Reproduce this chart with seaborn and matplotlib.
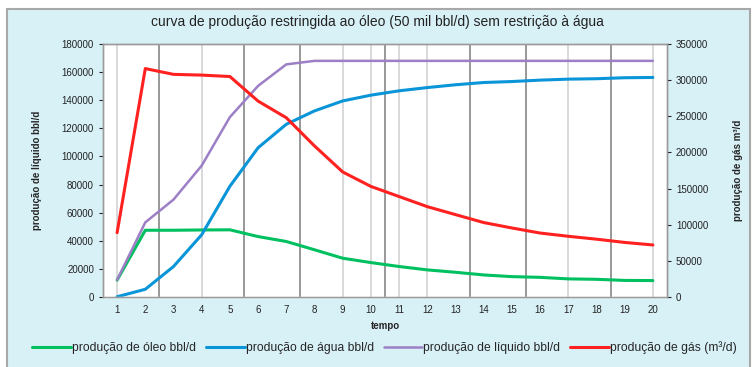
import matplotlib
matplotlib.use("Agg")
import matplotlib.pyplot as plt
import pandas as pd
import seaborn as sns

# Data
tempo = list(range(1, 21))
oleo = [12000, 47500, 47500, 47700, 47800, 43000, 39500, 33600, 27600, 24500,
        21700, 19300, 17600, 15700, 14500, 14000, 12900, 12600, 11800, 11700]
agua = [200, 5500, 21700, 44300, 78800, 106200, 122900, 132400, 139500, 143600,
        146700, 149000, 151000, 152600, 153300, 154300, 155000, 155300, 156000, 156200]
liquido = [12200, 53100, 69300, 93500, 128000, 150200, 165500, 168000, 168000, 168000,
           168000, 168000, 168000, 168000, 168000, 168000, 168000, 168000, 168000, 168000]
gas = [89000, 316000, 308000, 307000, 305000, 271000, 248000, 209000, 173000, 153000,
       139000, 125000, 114000, 103000, 95500, 88500, 84000, 80000, 75500, 72000]

titulo = "curva de produção restringida ao óleo (50 mil bbl/d) sem restrição à água"
rotulos = ["produção de óleo bbl/d", "produção de água bbl/d",
           "produção de líquido bbl/d", "produção de gás (m³/d)"]

df = pd.DataFrame({"tempo": tempo, "oleo": oleo, "agua": agua,
                   "liquido": liquido, "gas": gas})

sns.set_theme(style="white")
plt.rcParams['font.family'] = ['Liberation Sans', 'DejaVu Sans']

bg = "#d8f1f7"
fig = plt.figure(figsize=(7.54, 3.67), dpi=100, facecolor="white")

# chart area background with grey border
fig.patches.append(plt.Rectangle((0.0093, -0.02), 0.986, 0.995, transform=fig.transFigure,
                                 facecolor=bg, edgecolor="#a8a8a8", lw=1.5, zorder=-10))

ax = fig.add_axes([0.1366, 0.1907, 0.748, 0.6894])
ax.set_facecolor("white")
ax2 = ax.twinx()

# vertical grid lines (uneven, as in the reference)
for xv in [2.5, 5.5, 7.5, 10.5, 13.5, 15.5, 18.5]:
    ax.axvline(xv, color="#909090", lw=1.3, zorder=0)
for xv in [1, 4, 9, 10, 11, 12, 17, 20]:
    ax.axvline(xv, color="#cfcfcf", lw=1.1, zorder=0)

sns.lineplot(data=df, x="tempo", y="oleo", ax=ax, color="#00c060", lw=2.2, label=rotulos[0], legend=False)
sns.lineplot(data=df, x="tempo", y="agua", ax=ax, color="#0a95d8", lw=2.2, label=rotulos[1], legend=False)
sns.lineplot(data=df, x="tempo", y="liquido", ax=ax, color="#9d7fc6", lw=1.8, label=rotulos[2], legend=False)
sns.lineplot(data=df, x="tempo", y="gas", ax=ax2, color="#ff2020", lw=2.2, label=rotulos[3], legend=False)

ax.set_xlim(0.5, 20.5)
ax.set_ylim(0, 180000)
ax2.set_ylim(0, 350000)
ax.set_xticks(tempo)
ax.set_yticks(range(0, 180001, 20000))
ax2.set_yticks(range(0, 350001, 50000))

for a in (ax, ax2):
    a.tick_params(labelsize=7, colors="#222222", length=3, width=0.8)
    for s in a.spines.values():
        s.set_color("#9a9a9a")
        s.set_linewidth(1.0)
ax.tick_params(axis="x", length=0, pad=6)
ax.spines["bottom"].set_color("#dddddd")

ax.set_xlabel("tempo", fontsize=7, fontweight="bold", labelpad=4)
ax.set_ylabel("produção de líquido bbl/d", fontsize=7, fontweight="bold", labelpad=14)
ax2.set_ylabel("produção de gás m³/d", fontsize=7, fontweight="bold", labelpad=18)
fig.suptitle(titulo, x=0.5, y=0.96, fontsize=10, color="#222222")

h1, l1 = ax.get_legend_handles_labels()
h2, l2 = ax2.get_legend_handles_labels()
fig.legend(h1 + h2, l1 + l2, loc="center", bbox_to_anchor=(0.51, 0.052), ncol=4,
           frameon=False, fontsize=8.7, handlelength=3.2, columnspacing=0.8, handletextpad=0.1)

fig.savefig("out.png", dpi=100, facecolor="white")
